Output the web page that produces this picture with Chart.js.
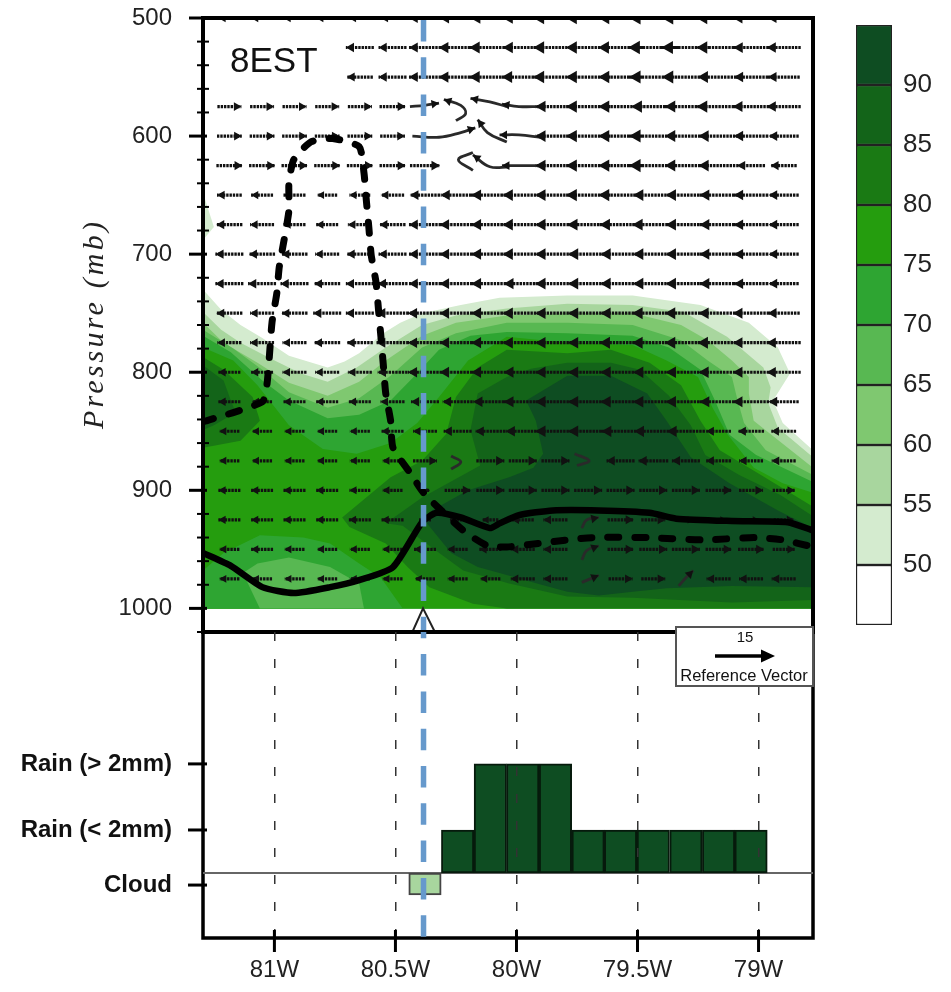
<!DOCTYPE html>
<html>
<head>
<meta charset="utf-8">
<title>8EST cross section</title>
<script src="https://cdn.jsdelivr.net/npm/chart.js@4/dist/chart.umd.min.js"></script>
<style>
html, body { margin: 0; padding: 0; background: #fff; }
canvas { position: absolute; filter: blur(0.45px); }
#top { left: 0; top: 0; }
#bottom { left: 0; top: 620px; }
#bar { left: 850px; top: 0; }
</style>
</head>
<body>
<canvas id="top" width="951" height="640"></canvas>
<canvas id="bottom" width="951" height="372"></canvas>
<canvas id="bar" width="101" height="640"></canvas>
<script>
var LON_MIN = -81.295, LON_MAX = -78.775;
var PX_PER_DEG = 242, PX_PER_MB = 1.18, PX_PER_MS = 4;
var BLUE = "#6699cc";

// axes
var pressureTicks = [500, 600, 700, 800, 900, 1000];
var pressureMinorTicks = [520, 540, 560, 580, 620, 640, 660, 680, 720, 740, 760, 780, 820, 840, 860, 880, 920, 940, 960, 980, 1020];
var lonTicks = [-81, -80.5, -80, -79.5, -79];
var lonLabels = ["81W", "80.5W", "80W", "79.5W", "79W"];
var rainTicks = [-0.28, 1, 2.535];
var rainLabels = ["Cloud", "Rain (< 2mm)", "Rain (> 2mm)"];
var barTicks = [50, 55, 60, 65, 70, 75, 80, 85, 90];

// colour levels, lowest first
var levelEdges = [45, 50, 55, 60, 65, 70, 75, 80, 85, 90, 95];
var levelColors = ["#ffffff", "#d4ebcf", "#a8d69e", "#7fc870", "#58b852", "#2ea532", "#259d0e", "#1a7a14", "#136419", "#0e4d22"];

// humidity contours as [lon, mb]
var c50Blob = [[-81.295,648],[-81.25,677],[-81.295,688]];
var c50 = [[-81.295,730],[-81.22,747],[-81.14,760],[-81.05,771],[-80.94,786],[-80.78,796],[-80.71,791],[-80.65,784],[-80.55,767],[-80.48,758],[-80.39,750],[-80.23,743],[-80.07,737],[-79.79,735],[-79.52,735],[-79.24,743],[-79.04,758],[-78.92,779],[-78.87,801],[-78.94,824],[-78.90,843],[-78.775,866],[-78.775,1000],[-81.295,1000]];
var c55 = [[-81.295,749],[-81.22,764],[-81.14,775],[-81.02,788],[-80.89,801],[-80.78,808],[-80.66,796],[-80.54,779],[-80.39,760],[-80.25,752],[-80.04,746],[-79.79,742],[-79.52,743],[-79.31,749],[-79.13,770],[-78.98,796],[-78.95,813],[-78.96,826],[-78.92,847],[-78.775,872],[-78.775,1000],[-81.295,1000]];
var c60 = [[-81.295,758],[-81.21,775],[-81.07,792],[-80.94,809],[-80.78,820],[-80.65,808],[-80.54,790],[-80.39,769],[-80.25,758],[-80.04,752],[-79.79,750],[-79.52,750],[-79.32,760],[-79.21,773],[-79.11,790],[-79.04,804],[-79.04,818],[-79.02,841],[-78.775,881],[-78.775,1000],[-81.295,1000]];
var c65 = [[-81.295,764],[-81.17,780],[-81.05,798],[-80.94,817],[-80.78,830],[-80.65,822],[-80.52,803],[-80.39,779],[-80.25,767],[-80.04,758],[-79.79,758],[-79.52,760],[-79.32,773],[-79.21,790],[-79.11,804],[-79.09,821],[-79.06,843],[-78.97,866],[-78.775,887],[-78.775,1000],[-81.295,1000]];
var c70 = [[-81.295,769],[-81.18,783],[-81.05,807],[-80.94,824],[-80.78,839],[-80.65,836],[-80.52,824],[-80.42,803],[-80.32,781],[-80.19,769],[-80.04,766],[-79.79,767],[-79.52,769],[-79.37,779],[-79.24,798],[-79.18,824],[-79.12,853],[-79.01,870],[-78.775,893],[-78.775,1000],[-81.295,1000]];
var c75 = [[-81.295,779],[-81.17,790],[-81.07,811],[-80.94,845],[-80.80,865],[-80.66,869],[-80.52,860],[-80.41,843],[-80.32,821],[-80.20,790],[-80.04,770],[-79.79,775],[-79.52,777],[-79.38,790],[-79.25,804],[-79.19,830],[-79.13,852],[-79.02,881],[-78.90,894],[-78.775,902],[-78.775,1000],[-81.295,1000]];
var c80 = [[-80.72,923],[-80.52,889],[-80.39,875],[-80.29,852],[-80.25,821],[-80.16,796],[-80.04,781],[-79.79,784],[-79.61,781],[-79.45,792],[-79.32,811],[-79.24,841],[-79.16,866],[-78.99,887],[-78.775,914],[-78.775,1000],[-80.04,1000],[-80.18,996],[-80.36,982],[-80.45,965],[-80.54,945],[-80.69,931]];
var c80Left = [[-81.295,787],[-81.21,798],[-81.09,821],[-81.06,841],[-81.14,858],[-81.295,864]];
var c85 = [[-80.16,818],[-80.04,804],[-79.94,797],[-79.79,792],[-79.61,792],[-79.49,798],[-79.37,820],[-79.28,845],[-79.22,870],[-79.08,887],[-78.91,904],[-78.775,922],[-78.775,993],[-79.11,995],[-79.52,991],[-79.79,990],[-80.03,979],[-80.22,968],[-80.36,947],[-80.47,930],[-80.54,928],[-80.39,906],[-80.15,879],[-80.19,849]];
var c85Left = [[-81.295,794],[-81.21,807],[-81.18,824],[-81.16,834],[-81.25,845],[-81.295,849]];
var c90 = [[-79.96,824],[-79.79,803],[-79.61,803],[-79.46,818],[-79.38,841],[-79.28,872],[-79.12,894],[-78.92,917],[-78.775,932],[-78.775,982],[-79.11,981],[-79.38,983],[-79.52,986],[-79.66,989],[-79.79,986],[-79.93,978],[-80.07,970],[-80.16,965],[-80.27,953],[-80.37,928],[-80.35,917],[-80.20,900],[-80.03,889],[-79.93,881],[-79.89,869],[-79.92,841]];
var c70Low = [[-81.295,968],[-81.21,953],[-81.06,938],[-80.88,940],[-80.77,945],[-80.65,962],[-80.56,974],[-80.47,1000],[-81.295,1000]];
var c65Low = [[-81.13,970],[-81.07,962],[-80.94,957],[-80.77,965],[-80.65,979],[-80.63,1000],[-81.06,1000]];

// thick lines
var solidLon = [-81.295,-81.18,-81.05,-80.92,-80.77,-80.65,-80.51,-80.39,-80.33,-80.23,-80.11,-80.07,-79.99,-79.85,-79.66,-79.45,-79.34,-79.11,-78.88,-78.775];
var solidMb = [953,964,982,987,982,976,965,927,919,923,932,928,921,917,917,919,924,926,927,934];
var dashedLon = [-81.295,-81.05,-81.03,-81.01,-80.99,-80.98,-80.96,-80.94,-80.94,-80.92,-80.85,-80.76,-80.65,-80.63,-80.62,-80.61,-80.60,-80.58,-80.57,-80.56,-80.55,-80.54,-80.52,-80.51,-80.44,-80.38,-80.22,-80.12,-80.04,-79.91,-79.79,-79.68,-79.46,-79.23,-79.01,-78.90,-78.775];
var dashedMb = [842,825,809,758,733,711,688,663,640,620,605,602,609,631,655,677,701,724,747,770,794,818,841,864,885,903,934,947,948,945,942,940,940,942,940,942,948];
var markerLon = -80.384;
var triangleLon = [-80.43, -80.386, -80.337];
var triangleMb = [1020, 1000, 1020];

// wind, zonal speed m/s per level at these columns
var windLon = [-81.186,-81.051,-80.917,-80.782,-80.647,-80.512,-80.378,-80.243,-80.108,-79.974,-79.839,-79.704,-79.570,-79.435,-79.300,-79.165,-79.031,-78.896];
var windLevels = [500,525,550,575,600,625,650,675,700,725,750,775,800,825,850,875,900,925,950,975];
var u500 = [-5.5,-5.5,-5.5,-5.5,-5.5,-6,-8,-9,-10,-10,-11,-11,-11,-12,-12,-11,-9,-8];
var u525 = [null,null,null,null,-7,-7,-8,-9.5,-10.5,-10,-11,-11,-11.2,-12.5,-12.2,-11,-8.8,-8.5];
var u550 = [null,null,null,null,-6.5,-7,-8,-9.5,-10.5,-10.5,-11,-11,-11,-12,-12,-10.5,-8.5,-8];
var u575 = [6,6,6,6,6,6.5,null,null,null,null,-10,-11,-11,-11,-10.5,-11,-9,-8.5];
var u600 = [6.2,6.2,6.2,6.2,6.2,6.2,null,null,null,null,-10,-11,-11,-12,-10.5,-10,-8.5,-7.5];
var u625 = [6.5,6.5,6.5,6.5,6.5,6.5,7.5,null,null,null,-10,-11,-11,-12,-10.5,-10,-7,-6.5];
var u650 = [-6.2,-5.5,-5.5,-5,-5.2,-5.8,-7.5,-8.5,-9.5,-10,-10,-11,-11,-10,-10,-9.5,-8.5,-7.5];
var u675 = [-6.5,-6,-5.5,-5.5,-6,-6.5,-8,-9,-9.5,-10,-10,-10.5,-10.5,-10.5,-10,-9.5,-8.5,-7.5];
var u700 = [-7,-6.5,-6.5,-6,-6.5,-7,-8,-9,-9.5,-10,-10,-10,-10,-10,-10,-9.5,-8.5,-7.5];
var u725 = [-7,-7,-7,-6.5,-7,-7.5,-8,-9,-9.5,-9.5,-10,-10,-10,-10,-10,-9.5,-8.5,-7.5];
var u750 = [-6.5,-6,-6.5,-7,-7,-8,-8.5,-9,-9.5,-10,-10,-10,-10,-10.5,-10.5,-10,-9,-8];
var u775 = [-6,-6,-6,-6.5,-6.5,-8,-8.5,-9,-9.5,-10,-10,-10,-10.5,-10.5,-10.5,-10.5,-9,-8.5];
var u800 = [-5.5,-5.5,-6,-6,-6,-7.5,-8.5,-9,-9.5,-9.5,-10,-10,-10,-10,-10,-10,-9,-8.5];
var u825 = [-5.5,-5,-5.5,-5.5,-5.5,-6,-7,-7.5,-8.5,-9.5,-10,-10,-10,-10,-10,-9.5,-9,-7.5];
var u850 = [-5,-5,-5,-5,-5,-5.5,-6,-7,-7.5,-8.5,-10,-10,-9.5,-9.5,-9.5,-6.2,-6.5,-6.2];
var u875 = [-5,-5,-5,-5,-5,-5,6,null,7,7,7,null,-7,-7.5,-7,-6.2,-6,-6];
var u900 = [-5.5,-5.5,-5.5,-5.5,-5.2,-5,2.5,6.5,7,7,7,7,7,7,7,6.5,6,5.5];
var u925 = [-5.5,-5.5,-5.5,-5.5,-5.5,-5.5,-3,-4,-4,-5.5,-6,null,6.5,6,4,4,4,5];
var u950 = [-5,-5.5,-5,-5,-5,-5,-5.5,-5,-5.5,-6,-6,null,6.5,7,7,6.5,6.5,5.5];
var u975 = [-5,-5,-5,-5,-5,-5,-5,-5,-5,-6,-6,null,6,6,null,-6,-6,-6];
var windU = [u500,u525,u550,u575,u600,u625,u650,u675,u700,u725,u750,u775,u800,u825,u850,u875,u900,u925,u950,u975];

// vectors that bend, first pair is the arrow tip
var curlyVectors = [
    [[-80.32,572],[-80.38,574],[-80.44,575]],
    [[-80.30,569],[-80.23,574],[-80.21,581],[-80.25,587]],
    [[-80.19,568],[-80.11,571],[-80.04,575]],
    [[-80.06,573],[-79.99,575],[-79.90,575]],
    [[-80.17,593],[-80.23,597],[-80.32,601],[-80.43,600]],
    [[-80.16,586],[-80.12,597],[-80.04,605]],
    [[-80.07,599],[-79.99,599],[-79.90,601]],
    [[-80.18,616],[-80.11,626],[-80.03,626]],
    [[-80.06,625],[-79.99,625],[-79.90,625]],
    [[-79.66,923],[-79.71,925],[-79.73,932]],
    [[-79.66,947],[-79.71,951],[-79.73,959]],
    [[-79.66,972],[-79.73,978]],
    [[-79.27,968],[-79.30,974],[-79.33,981]]
];
var chevrons = [
    [[-80.18,614],[-80.24,620],[-80.18,629]],
    [[-80.27,871],[-80.23,876],[-80.27,882]],
    [[-79.76,869],[-79.70,875],[-79.75,879]]
];

// lower panel
var rainLon = [-80.378,-80.243,-80.108,-79.974,-79.839,-79.704,-79.570,-79.435,-79.300,-79.165,-79.031];
var rainValues = [-0.51,1,2.535,2.535,2.535,1,1,1,1,1,1];
var refSpeed = 15;

function pairs(list) {
    return list.map(function(p) { return {x: p[0], y: p[1]}; });
}

function shape(list, color, order) {
    return {
        data: pairs(list), showLine: true, fill: "shape", tension: 0,
        backgroundColor: color, borderColor: color, borderWidth: 0, pointRadius: 0, order: order
    };
}

// the default half label margins would push the plot area in
function noMargins(s) {
    s.paddingTop = 0;
    s.paddingBottom = 0;
    s.paddingLeft = 0;
    s.paddingRight = 0;
}

// shafts and heads of the wind vectors, faster wind gets a bigger head
var shafts = [], heads = [], headAngles = [], headSizes = [];

function addHead(tip, from, size) {
    var dx = (tip[0] - from[0]) * PX_PER_DEG;
    var dy = (tip[1] - from[1]) * PX_PER_MB;
    var len = Math.sqrt(dx * dx + dy * dy) || 1;
    heads.push({x: tip[0] - size * dx / len / PX_PER_DEG, y: tip[1] - size * dy / len / PX_PER_MB});
    headAngles.push(Math.atan2(dx, -dy) * 180 / Math.PI);
    headSizes.push(size);
}

windU.forEach(function(row, r) {
    row.forEach(function(u, c) {
        if (u === null) return;
        var half = u * PX_PER_MS / PX_PER_DEG / 2;
        var tail = [windLon[c] - half, windLevels[r]];
        var tip = [windLon[c] + half, windLevels[r]];
        shafts.push({x: tail[0], y: tail[1]}, {x: tip[0], y: tip[1]}, {x: NaN, y: NaN});
        addHead(tip, tail, 2.5 + 0.42 * Math.abs(u));
    });
});
curlyVectors.forEach(function(v) { addHead(v[0], v[1], 5); });

var topSets = [];
topSets.push(shape(c50Blob, levelColors[1], 100));
topSets.push(shape(c50, levelColors[1], 99));
topSets.push(shape(c55, levelColors[2], 98));
topSets.push(shape(c60, levelColors[3], 97));
topSets.push(shape(c65, levelColors[4], 96));
topSets.push(shape(c70, levelColors[5], 95));
topSets.push(shape(c75, levelColors[6], 94));
topSets.push(shape(c80, levelColors[7], 93));
topSets.push(shape(c80Left, levelColors[7], 92));
topSets.push(shape(c85, levelColors[8], 91));
topSets.push(shape(c85Left, levelColors[8], 90));
topSets.push(shape(c90, levelColors[9], 89));
topSets.push(shape(c70Low, levelColors[5], 88));
topSets.push(shape(c65Low, levelColors[4], 87));
topSets.push({
    data: shafts, showLine: true, borderColor: "#111", borderWidth: 3.2, borderDash: [2.4, 0.9],
    pointRadius: 0, spanGaps: false, order: 40
});
curlyVectors.concat(chevrons).forEach(function(v) {
    topSets.push({
        data: pairs(v), showLine: true, borderColor: "#2a2a2a", borderWidth: 2.8, tension: 0.4,
        pointRadius: 0, order: 39
    });
});
topSets.push({
    data: heads, pointStyle: "triangle", pointRadius: headSizes, pointRotation: headAngles,
    pointBackgroundColor: "#111", pointBorderWidth: 0, showLine: false, order: 38
});
topSets.push({
    data: solidLon.map(function(x, i) { return {x: x, y: solidMb[i]}; }),
    showLine: true, borderColor: "#000", borderWidth: 6.5, pointRadius: 0, tension: 0.2, order: 30
});
topSets.push({
    data: dashedLon.map(function(x, i) { return {x: x, y: dashedMb[i]}; }),
    showLine: true, borderColor: "#000", borderWidth: 7, borderDash: [11, 16], borderCapStyle: "round",
    pointRadius: 0, tension: 0.2, order: 29
});
topSets.push({
    data: triangleLon.map(function(x, i) { return {x: x, y: triangleMb[i]}; }),
    showLine: true, borderColor: "#222", borderWidth: 2, pointRadius: 0, order: 28
});
topSets.push({
    data: [{x: markerLon, y: 500}, {x: markerLon, y: 1020}],
    showLine: true, borderColor: BLUE, borderWidth: 5.5, borderDash: [21.5, 15.8], borderDashOffset: -2,
    pointRadius: 0, order: 1
});

// frame and tick marks on both sides of the axes
function drawFrame(chart, width) {
    var a = chart.chartArea, ctx = chart.ctx;
    ctx.save();
    ctx.strokeStyle = "#000";
    ctx.lineWidth = width;
    ctx.strokeRect(a.left, a.top, a.right - a.left, a.bottom - a.top);
    ctx.restore();
}

var axisMarks = {
    id: "axisMarks",
    beforeDatasetsDraw: function(chart, args, opts) {
        if (opts.frameUnder) drawFrame(chart, opts.frame);
    },
    afterDraw: function(chart, args, opts) {
        if (!opts.frameUnder) drawFrame(chart, opts.frame);
        var ctx = chart.ctx, a = chart.chartArea;
        ctx.save();
        ctx.strokeStyle = "#000";
        opts.marks.forEach(function(m) {
            var scale = chart.scales[m.axis];
            ctx.lineWidth = m.width;
            m.values.forEach(function(v) {
                var px = scale.getPixelForValue(v);
                ctx.beginPath();
                if (m.axis === "x") {
                    ctx.moveTo(px, a.bottom - m.inner);
                    ctx.lineTo(px, a.bottom + m.outer);
                } else {
                    ctx.moveTo(a.left - m.outer, px);
                    ctx.lineTo(a.left + m.inner, px);
                }
                ctx.stroke();
            });
        });
        ctx.restore();
    }
};

var topLabels = {
    id: "topLabels",
    afterDraw: function(chart) {
        var ctx = chart.ctx;
        ctx.save();
        ctx.fillStyle = "#111";
        ctx.font = "35px 'Liberation Sans'";
        ctx.textBaseline = "middle";
        ctx.fillText("8EST", 230, 62);
        // the axis title is spaced out, which a scale title cannot do
        ctx.translate(95, 324);
        ctx.rotate(-Math.PI / 2);
        ctx.font = "italic 30px 'Liberation Serif'";
        ctx.letterSpacing = "3.2px";
        ctx.textAlign = "center";
        ctx.fillStyle = "#222";
        ctx.fillText("Pressure (mb)", 0, 0);
        ctx.restore();
    }
};

var refBox = {
    id: "refBox",
    afterDraw: function(chart) {
        var ctx = chart.ctx;
        var right = chart.chartArea.right, top = 7;
        var len = refSpeed * PX_PER_MS;
        var mid = 745;
        ctx.save();
        ctx.fillStyle = "#fff";
        ctx.fillRect(675, top, right - 675, 59);
        ctx.strokeStyle = "#555";
        ctx.lineWidth = 2;
        ctx.strokeRect(676, top, right - 676, 59);
        ctx.fillStyle = "#111";
        ctx.textAlign = "center";
        ctx.textBaseline = "middle";
        ctx.font = "15px 'Liberation Sans'";
        ctx.fillText(String(refSpeed), mid, top + 11);
        ctx.font = "16.5px 'Liberation Sans'";
        ctx.fillText("Reference Vector", mid - 1, top + 49);
        ctx.strokeStyle = "#000";
        ctx.lineWidth = 3.5;
        ctx.beginPath();
        ctx.moveTo(mid - len / 2, top + 29);
        ctx.lineTo(mid + len / 2 - 10, top + 29);
        ctx.stroke();
        ctx.fillStyle = "#000";
        ctx.beginPath();
        ctx.moveTo(mid + len / 2, top + 29);
        ctx.lineTo(mid + len / 2 - 14, top + 22.5);
        ctx.lineTo(mid + len / 2 - 14, top + 35.5);
        ctx.closePath();
        ctx.fill();
        ctx.restore();
    }
};

new Chart(document.getElementById("top"), {
    type: "scatter",
    data: {datasets: topSets},
    options: {
        responsive: false,
        animation: false,
        layout: {padding: {top: 18, right: 138, bottom: 8, left: 0}},
        plugins: {
            legend: {display: false},
            tooltip: {enabled: false},
            axisMarks: {
                frame: 4,
                marks: [
                    {axis: "y", values: pressureTicks, outer: 14, inner: 4, width: 3},
                    {axis: "y", values: pressureMinorTicks, outer: 6, inner: 6, width: 2}
                ]
            }
        },
        scales: {
            x: {type: "linear", display: false, min: LON_MIN, max: LON_MAX},
            y: {
                type: "linear",
                reverse: true,
                min: 500,
                max: 1020,
                afterBuildTicks: function(s) {
                    s.ticks = pressureTicks.map(function(v) { return {value: v}; });
                },
                afterFit: function(s) { s.width = 203; noMargins(s); },
                grid: {display: false, drawTicks: false},
                border: {display: false},
                ticks: {
                    padding: 31,
                    color: "#222",
                    font: {family: "'Liberation Sans'", size: 24},
                    callback: function(v) { return String(v); }
                }
            }
        }
    },
    plugins: [axisMarks, topLabels]
});

new Chart(document.getElementById("bottom"), {
    data: {
        datasets: [
            {
                type: "line",
                data: [{x: markerLon, y: 5.6}, {x: markerLon, y: -1.51}],
                borderColor: BLUE, borderWidth: 5.5, borderDash: [21.5, 15.8], borderDashOffset: 15.2,
                pointRadius: 0, order: 1
            },
            {
                type: "line",
                data: [{x: LON_MIN, y: 0}, {x: LON_MAX, y: 0}],
                borderColor: "#666", borderWidth: 2, pointRadius: 0, order: 5
            },
            {
                type: "bar",
                data: rainLon.map(function(x, i) { return {x: x, y: rainValues[i]}; }),
                backgroundColor: rainValues.map(function(v) { return v < 0 ? levelColors[2] : levelColors[9]; }),
                borderColor: rainValues.map(function(v) { return v < 0 ? "#444" : "#061a0c"; }),
                borderWidth: 2,
                borderSkipped: false,
                barPercentage: 1,
                categoryPercentage: 1,
                order: 3
            }
        ]
    },
    options: {
        responsive: false,
        animation: false,
        layout: {padding: {top: 12, right: 138, bottom: 0, left: 0}},
        plugins: {
            legend: {display: false},
            tooltip: {enabled: false},
            axisMarks: {
                frame: 3.5,
                frameUnder: true,
                marks: [
                    {axis: "x", values: lonTicks, outer: 14, inner: 8, width: 3},
                    {axis: "y", values: rainTicks, outer: 15, inner: 4, width: 3}
                ]
            }
        },
        scales: {
            x: {
                type: "linear",
                offset: false,
                min: LON_MIN,
                max: LON_MAX,
                afterBuildTicks: function(s) {
                    s.ticks = lonTicks.map(function(v) { return {value: v}; });
                },
                afterFit: function(s) { s.height = 54; noMargins(s); },
                grid: {
                    offset: false,
                    color: "#333",
                    lineWidth: 1.5,
                    z: 1,
                    drawTicks: false
                },
                border: {display: false, dash: [9, 18], dashOffset: 0},
                ticks: {
                    padding: 18,
                    maxRotation: 0,
                    color: "#222",
                    font: {family: "'Liberation Sans'", size: 24},
                    callback: function(v) { return lonLabels[lonTicks.indexOf(v)]; }
                }
            },
            y: {
                type: "linear",
                min: -1.51,
                max: 5.6,
                afterBuildTicks: function(s) {
                    s.ticks = rainTicks.map(function(v) { return {value: v}; });
                },
                afterFit: function(s) { s.width = 203; noMargins(s); },
                grid: {display: false, drawTicks: false},
                border: {display: false},
                ticks: {
                    padding: 31,
                    color: "#111",
                    font: {family: "'Liberation Sans'", size: 24, weight: "bold"},
                    callback: function(v) { return rainLabels[rainTicks.indexOf(v)]; }
                }
            }
        }
    },
    plugins: [axisMarks, refBox]
});

new Chart(document.getElementById("bar"), {
    type: "bar",
    data: {
        labels: ["RH"],
        datasets: levelColors.map(function(color, i) {
            return {
                data: [[levelEdges[i], levelEdges[i + 1]]],
                backgroundColor: color,
                borderColor: "#222",
                borderWidth: 1.5,
                borderSkipped: false,
                grouped: false,
                barPercentage: 1,
                categoryPercentage: 1
            };
        })
    },
    options: {
        responsive: false,
        animation: false,
        layout: {padding: {top: 25, right: 0, bottom: 15, left: 6}},
        plugins: {legend: {display: false}, tooltip: {enabled: false}},
        scales: {
            x: {display: false},
            y: {
                position: "right",
                min: 45,
                max: 95,
                afterBuildTicks: function(s) {
                    s.ticks = barTicks.map(function(v) { return {value: v}; });
                },
                afterFit: function(s) { s.width = 59; noMargins(s); },
                grid: {display: false, drawTicks: false},
                border: {display: false},
                ticks: {
                    padding: 11,
                    color: "#222",
                    font: {family: "'Liberation Sans'", size: 26}
                }
            }
        }
    }
});
</script>
</body>
</html>
